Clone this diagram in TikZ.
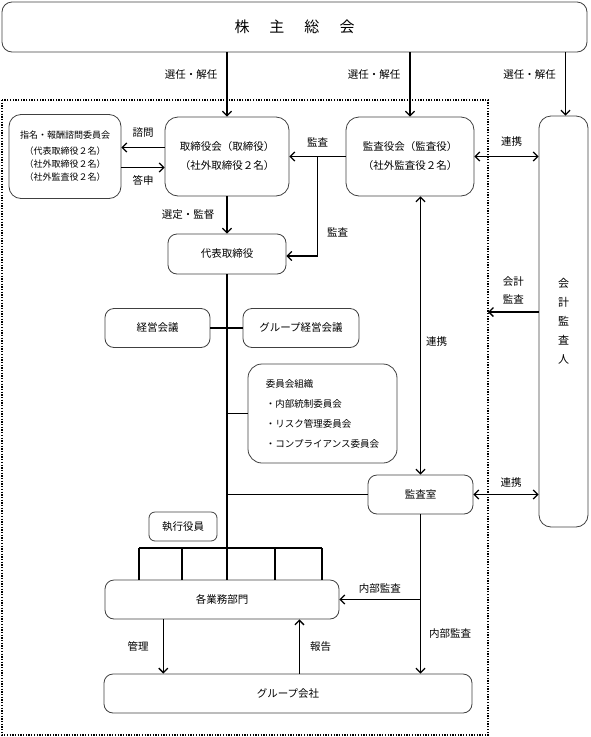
\documentclass[tikz,border=0pt]{standalone}
\usepackage{fontspec}
\setmainfont{Noto Sans CJK JP}
\usepackage{tikz}
\usetikzlibrary{calc, arrows.meta, positioning}
\tikzset{>={Straight Barb[length=4.5pt,width=9pt]}}
\tikzset{box/.style={draw=black!75, line width=0.8pt, rounded corners=9pt, inner sep=0pt, align=center, font=\fontsize{10.5}{19}\selectfont},
  lbl/.style={inner sep=2pt, font=\fontsize{10.5}{18}\selectfont},
  conn/.style={line width=1.3pt}}

\begin{document}
\begin{tikzpicture}[x=1pt, y=-1pt]
\useasboundingbox (0,0) rectangle (590,737);
\draw[dash pattern=on 1.3pt off 1.4pt, line width=1.4pt] (2,100) coordinate (fnw) rectangle (488,735) coordinate (fse);

\node[box, minimum width=585pt, minimum height=50pt, rounded corners=10pt, font=\fontsize{15}{18}\selectfont] (soukai) at (294.5,27) {株\hspace{20pt}主\hspace{20pt}総\hspace{20pt}会};
\node[box, minimum width=112pt, minimum height=84pt, rounded corners=12pt, font=\fontsize{9}{13}\selectfont] (shimei) at (65,156.5) {指名・報酬諮問委員会\\[3pt]（代表取締役２名）\\（社外取締役２名）\\（社外監査役２名）};
\node[box, minimum width=124pt, minimum height=79pt, rounded corners=13pt] (torishimari) at (227,156.5) {取締役会（取締役）\\（社外取締役２名）};
\node[box, minimum width=128pt, minimum height=79pt, rounded corners=13pt] (kansayaku) at (410,156.5) {監査役会（監査役）\\（社外監査役２名）};
\node[box, minimum width=49pt, minimum height=411pt, rounded corners=12pt, font=\fontsize{11}{19}\selectfont] (kaikei) at (563.5,321.5) {会\\計\\監\\査\\人};
\node[box, minimum width=118pt, minimum height=40pt] (daihyo) at (227,254) {代表取締役};
\node[box, minimum width=105pt, minimum height=39pt] (keiei) at (157.5,328) {経営会議};
\node[box, minimum width=116pt, minimum height=39pt] (gkeiei) at (301,328) {グループ経営会議};
\node[box, minimum width=149pt, minimum height=99pt, rounded corners=14pt, align=left, font=\fontsize{9.5}{20}\selectfont] (iinkai) at (322.5,413.5) {委員会組織\\・内部統制委員会\\・リスク管理委員会\\・コンプライアンス委員会};
\node[box, minimum width=105pt, minimum height=39pt] (kansashitsu) at (420.5,494.5) {監査室};
\node[box, minimum width=68pt, minimum height=29pt, rounded corners=6pt] (shikkou) at (183,526.5) {執行役員};
\node[box, minimum width=234pt, minimum height=39pt] (kakubu) at (222,599.5) {各業務部門};
\node[box, minimum width=368pt, minimum height=39pt] (gkaisha) at (288,693.5) {グループ会社};

\draw[conn, ->] (soukai.south -| torishimari.north) -- node[lbl, left=7pt, pos=0.35] (l1) {選任・解任} (torishimari.north);
\draw[conn, ->] (soukai.south -| kansayaku.north) -- node[lbl, left=7pt, pos=0.35] (l2) {選任・解任} (kansayaku.north);
\draw[conn, ->] ($(soukai.south -| kaikei.north)+(2,0)$) -- node[lbl, left=7pt, pos=0.35] (l3) {選任・解任} ($(kaikei.north)+(2,0)$);

\draw[conn, ->] ($(torishimari.west)+(0,-9)$) -- node[lbl, above=7pt] (lshimon) {諮問} ($(shimei.east)+(0,-9)$);
\draw[conn, ->] ($(shimei.east)+(0,11)$) -- node[lbl, below=5pt] (ltoshin) {答申} ($(torishimari.west)+(0,11)$);
\draw[conn, ->] (torishimari) -- node[lbl, left=10pt] (lsentei) {選定・監督} (daihyo);

\draw[conn, ->] (kansayaku.west) -- (torishimari.east);
\coordinate (br) at ($(torishimari.east)!0.5!(kansayaku.west)$);
\node[lbl, above=7pt] (lkansa1) at (br) {監査};
\draw[conn, ->] (br) |- node[lbl, right=7pt, pos=0.38] (lkansa2) {監査} ($(daihyo.east)+(0,2)$);

\draw[conn, <->] (kansayaku.east) -- node[lbl, above=7pt, xshift=5pt] (lrenkei1) {連携} (kansayaku.east -| kaikei.west);
\draw[conn, <->] (kansayaku.south -| kansashitsu.north) -- node[lbl, right=3pt, pos=0.52] (lrenkei2) {連携} (kansashitsu.north);
\draw[conn, <->] (kansashitsu.east) -- node[lbl, above=4pt, xshift=5pt] (lrenkei3) {連携} (kansashitsu.east -| kaikei.west);

\draw[conn, ->] ($(kaikei.west)+(0,-9.5)$) coordinate (ka) -- (ka -| fse);
\node[lbl, above=6pt, align=center] (lkaikei) at ($(ka)!0.5!(ka -| fse)$) {会計\\監査};

\draw[conn] (daihyo.south) -- (daihyo.south |- kakubu.north);
\draw[conn] (keiei.east) -- (gkeiei.west);
\draw[conn] (iinkai.west) -- (iinkai.west -| daihyo.south);
\draw[conn] (kansashitsu.west) -- (kansashitsu.west -| daihyo.south);

\draw[conn] (139,548) coordinate (combl) -- (322,548) coordinate (combr);
\foreach \cx in {139,182,275,322} {
  \coordinate (t) at (\cx,548);
  \draw[conn] (t) -- (t |- kakubu.north);
}

\draw[conn, ->] (kansashitsu.south) -- node[lbl, right=6pt, pos=0.75] (lnaibu2) {内部監査} (kansashitsu.south |- gkaisha.north);
\draw[conn, ->] (kansashitsu.south |- kakubu.east) -- node[lbl, above=3pt] (lnaibu1) {内部監査} (kakubu.east);

\coordinate (kanri) at ($(kakubu.south west)!0.25!(kakubu.south east)$);
\draw[conn, ->] (kanri) -- node[lbl, left=12pt] (lkanri) {管理} (kanri |- gkaisha.north);
\coordinate (hokoku) at ($(kakubu.south west)!0.83!(kakubu.south east)$);
\draw[conn, ->] (hokoku |- gkaisha.north) -- node[lbl, right=8pt] (lhokoku) {報告} (hokoku);
\end{tikzpicture}
\end{document}
